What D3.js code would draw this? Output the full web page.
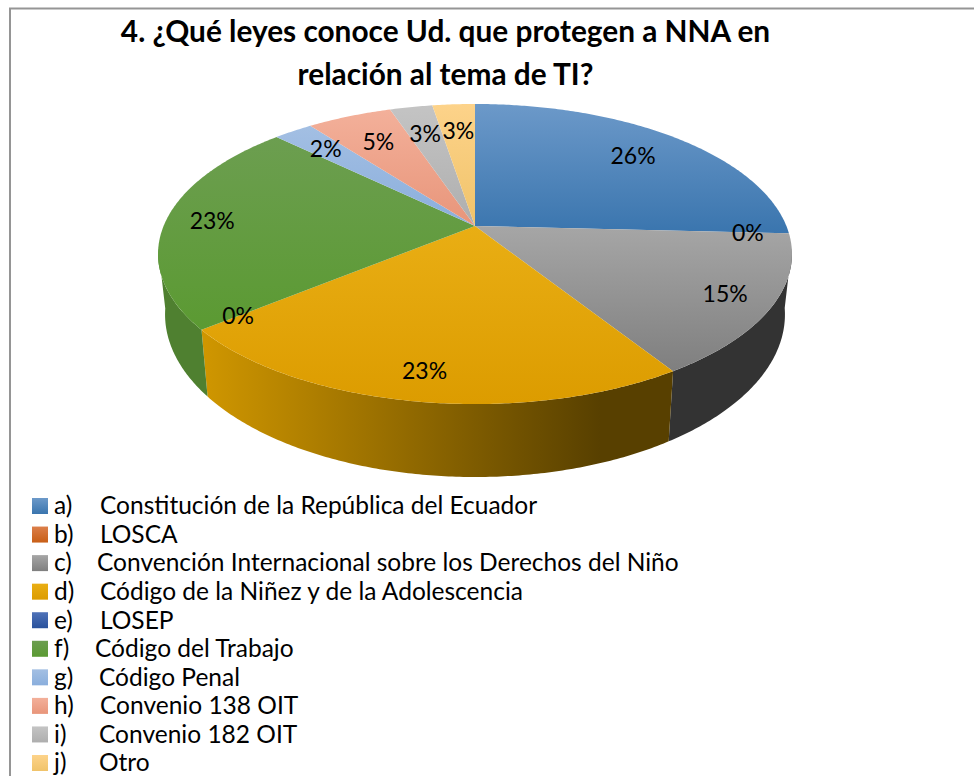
<!DOCTYPE html>
<html>
<head>
<meta charset="utf-8">
<script src="https://cdn.jsdelivr.net/npm/d3@7"></script>
<style>
  html, body { margin: 0; padding: 0; background: #fff; overflow: hidden; }
  svg { display: block; }
  text { font-family: Lato, "Open Sans", sans-serif; fill: #000; }
</style>
</head>
<body>
<svg id="chart" width="974" height="776"></svg>
<script>
var titleLines = ["4. ¿Qué leyes conoce Ud. que protegen a NNA en", "relación al tema de TI?"];
var markers = ["a)", "b)", "c)", "d)", "e)", "f)", "g)", "h)", "i)", "j)"];
var names = [
  "Constitución de la República del Ecuador",
  "LOSCA",
  "Convención Internacional sobre los Derechos del Niño",
  "Código de la Niñez y de la Adolescencia",
  "LOSEP",
  "Código del Trabajo",
  "Código Penal",
  "Convenio 138 OIT",
  "Convenio 182 OIT",
  "Otro"
];
var values = [25.8, 0, 15.2, 23.1, 0, 23.1, 2.4, 5.2, 2.6, 2.6];

// colores de cada sector: arriba / abajo de la cara, y la pared lateral
var topLight = ["#6c99c9", "#dc7f4a", "#a6a6a6", "#e9ae14", "#4f72b8", "#6c9e50", "#a3bfe3", "#f3b09a", "#c4c4c4", "#fdd38a"];
var topDark = ["#3a75ae", "#c85f17", "#7f7f7f", "#dc9c00", "#2a529c", "#5b9a32", "#8aaedc", "#e8957a", "#aeaeae", "#f0c36a"];
var wallLeft = ["#2a5580", "#8e4310", "#3d3d3d", "#cf9600", "#1e3a70", "#4f8030", "#648bb5", "#b06e58", "#808080", "#b08f50"];
var wallRight = ["#2a5580", "#8e4310", "#333333", "#584000", "#1e3a70", "#4c7a2d", "#648bb5", "#b06e58", "#808080", "#b08f50"];
// distancia de la etiqueta al centro (fraccion del radio)
var labelRadius = [0.77, 0.87, 0.855, 0.855, 0.88, 0.85, 0.8, 0.74, 0.75, 0.75];
var nameOffset = [100, 100, 97, 100, 100, 95, 99, 100, 99, 99];

var svg = d3.select("#chart");
var defs = svg.append("defs");

// marco (solo arriba e izquierda)
svg.append("path")
  .attr("d", "M10,776V8.5H974")
  .attr("fill", "none")
  .attr("stroke", "#959595")
  .attr("stroke-width", 2);

svg.selectAll(".title")
  .data(titleLines)
  .enter()
  .append("text")
  .attr("class", "title")
  .attr("x", 445.5)
  .attr("y", function (d, i) { return 42 + i * 43; })
  .attr("text-anchor", "middle")
  .attr("font-size", 29.8)
  .attr("font-weight", 700)
  .text(function (d) { return d; });

// proyeccion en perspectiva del disco
var persp = 0.1867;
function project(angle, r, cy, radius, depth) {
  var u = Math.sin(angle) * r;
  var v = -Math.cos(angle) * r;
  var w = 1 - persp * v;
  return [475 + radius * u / w, cy + depth * v / w];
}
function topPoint(angle, r) { return project(angle, r, 226, 311.4, 144.8); }
function bottomPoint(angle) { return project(angle, 1, 284, 304.5, 157); }

var pie = d3.pie().sort(null).value(function (d) { return d; });
var slices = pie(values);

slices.forEach(function (s, i) {
  var face = defs.append("linearGradient")
    .attr("id", "face" + i)
    .attr("x1", 0).attr("x2", 0).attr("y1", 0).attr("y2", 1);
  face.append("stop").attr("offset", 0).attr("stop-color", topLight[i]);
  face.append("stop").attr("offset", 1).attr("stop-color", topDark[i]);

  var wall = defs.append("linearGradient")
    .attr("id", "wall" + i)
    .attr("gradientUnits", "userSpaceOnUse")
    .attr("x1", 205).attr("x2", 600).attr("y1", 0).attr("y2", 0);
  wall.append("stop").attr("offset", 0).attr("stop-color", wallLeft[i]);
  wall.append("stop").attr("offset", 1).attr("stop-color", wallRight[i]);
});

function arcAngles(s) {
  var n = Math.max(2, Math.ceil((s.endAngle - s.startAngle) / 0.01));
  return d3.range(n + 1).map(function (k) {
    return s.startAngle + (s.endAngle - s.startAngle) * k / n;
  });
}

var line = d3.line();

// paredes: solo la parte de delante
var wallStart = 1.72, wallEnd = 4.56;
svg.append("g")
  .selectAll("path")
  .data(slices.filter(function (s) {
    return s.endAngle > s.startAngle && s.endAngle > wallStart && s.startAngle < wallEnd;
  }))
  .enter()
  .append("path")
  .attr("d", function (s) {
    var part = {
      startAngle: Math.max(s.startAngle, wallStart),
      endAngle: Math.min(s.endAngle, wallEnd)
    };
    var angles = arcAngles(part);
    return line(angles.map(function (a) { return topPoint(a, 1); })
      .concat(angles.slice().reverse().map(bottomPoint))) + "Z";
  })
  .attr("fill", function (s) { return "url(#wall" + s.index + ")"; });

// caras de arriba
svg.append("g")
  .selectAll("path")
  .data(slices.filter(function (s) { return s.value > 0; }))
  .enter()
  .append("path")
  .attr("d", function (s) {
    return line([topPoint(0, 0)].concat(arcAngles(s).map(function (a) { return topPoint(a, 1); }))) + "Z";
  })
  .attr("fill", function (s) { return "url(#face" + s.index + ")"; });

svg.append("g")
  .selectAll("text")
  .data(slices)
  .enter()
  .append("text")
  .attr("transform", function (s) {
    var p = topPoint((s.startAngle + s.endAngle) / 2, labelRadius[s.index]);
    return "translate(" + p[0] + "," + p[1] + ")";
  })
  .attr("text-anchor", "middle")
  .attr("dy", "0.36em")
  .attr("font-size", 23)
  .text(function (s) { return d3.format(".0f")(s.value) + "%"; });

// leyenda
var legendY = d3.scalePoint().domain(markers).range([506, 763]);
var legend = svg.append("g")
  .selectAll("g")
  .data(markers)
  .enter()
  .append("g")
  .attr("transform", function (d) { return "translate(0," + legendY(d) + ")"; });

markers.forEach(function (m, i) {
  var grad = defs.append("linearGradient")
    .attr("id", "swatch" + i)
    .attr("x1", 0).attr("x2", 0).attr("y1", 0).attr("y2", 1);
  grad.append("stop").attr("offset", 0).attr("stop-color", topLight[i]);
  grad.append("stop").attr("offset", 1).attr("stop-color", topDark[i]);
});

legend.append("rect")
  .attr("x", 32)
  .attr("y", -8)
  .attr("width", 16)
  .attr("height", 16)
  .attr("fill", function (d, i) { return "url(#swatch" + i + ")"; });

legend.append("text")
  .attr("x", 54)
  .attr("dy", "0.34em")
  .attr("font-size", 24.5)
  .text(function (d) { return d; });

legend.append("text")
  .attr("x", function (d, i) { return nameOffset[i]; })
  .attr("dy", "0.34em")
  .attr("font-size", 24.5)
  .text(function (d, i) { return names[i]; });
</script>
</body>
</html>
